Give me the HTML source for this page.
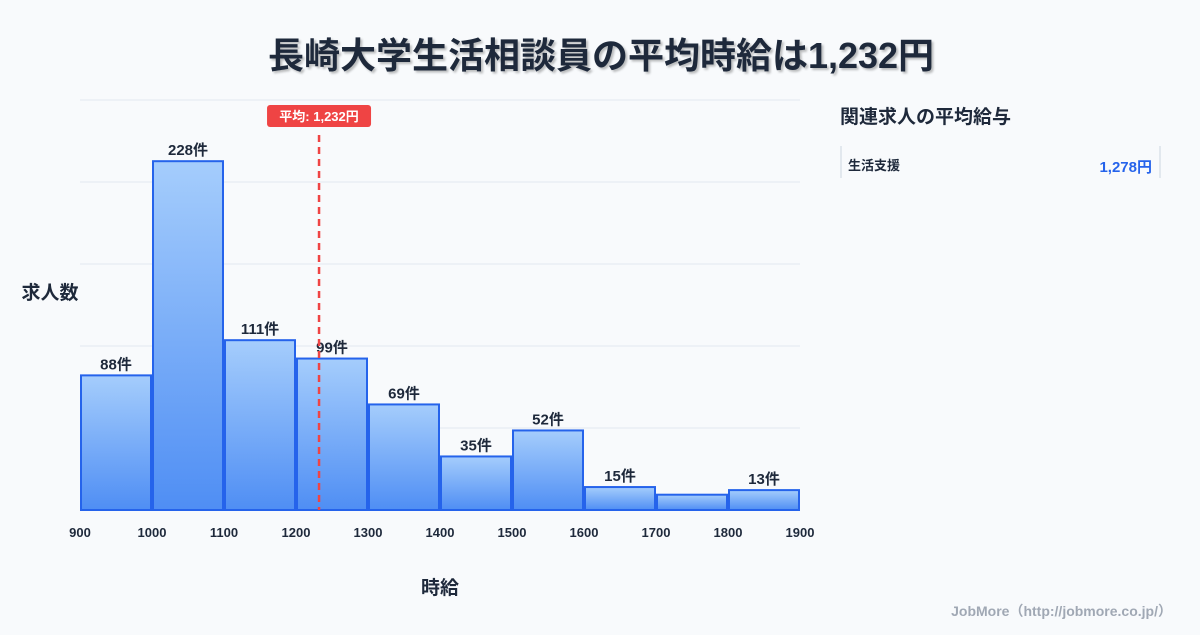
<!DOCTYPE html>
<html><head><meta charset="utf-8">
<style>
body{margin:0;width:1200px;height:630px;background:#f8fafc;overflow:hidden;font-family:"Liberation Sans","Noto Sans CJK JP",sans-serif;}
svg text{font-family:"Liberation Sans","Noto Sans CJK JP",sans-serif;}
</style></head><body>
<svg id="c" width="1200" height="630">
<defs><linearGradient id="g" x1="0" y1="0" x2="0" y2="1"><stop offset="0" stop-color="#a5cdfc"/><stop offset="1" stop-color="#4f8ef4"/></linearGradient></defs>
<text x="601" y="68" text-anchor="middle" font-size="36" font-weight="bold" fill="#1e293b" style="filter:drop-shadow(2px 2px 1px rgba(0,0,0,0.25))">長崎大学生活相談員の平均時給は1,232円</text>
<text x="50" y="299" text-anchor="middle" font-size="19" font-weight="bold" fill="#1e293b">求人数</text>
<text x="440" y="594" text-anchor="middle" font-size="19" font-weight="bold" fill="#1e293b">時給</text>
<text x="840" y="123" font-size="19" font-weight="bold" fill="#1e293b">関連求人の平均給与</text>
<line x1="841" y1="146" x2="841" y2="178" stroke="#cbd5e1"/>
<line x1="1160" y1="146" x2="1160" y2="178" stroke="#cbd5e1"/>
<text x="848" y="170" font-size="13" font-weight="bold" fill="#1e293b">生活支援</text>
<text x="1152" y="172" text-anchor="end" font-size="15" font-weight="bold" fill="#2563eb">1,278円</text>
<text x="1172" y="616" text-anchor="end" font-size="14" font-weight="bold" fill="#a0a8b4">JobMore（http://jobmore.co.jp/）</text>
<g id="plot"></g>
</svg>
<script>
const binStarts=[900,1000,1100,1200,1300,1400,1500,1600,1700,1800];
const counts=[88,228,111,99,69,35,52,15,10,13];
const labels=["88件","228件","111件","99件","69件","35件","52件","15件","","13件"];
const xTicks=[900,1000,1100,1200,1300,1400,1500,1600,1700,1800,1900];
const meanWage=1232;
const meanLabel="平均: 1,232円";
const yMax=268;
const NS="http://www.w3.org/2000/svg";
const X0=80,X1=800,Y0=510,Y1=100;
const xs=v=>X0+(v-900)/(1900-900)*(X1-X0);
const ys=v=>Y0-v/yMax*(Y0-Y1);
const p=document.getElementById('plot');
function mk(t,a,txt){const e=document.createElementNS(NS,t);for(const k in a)e.setAttribute(k,a[k]);if(txt!==undefined)e.textContent=txt;p.appendChild(e);return e;}
for(let i=0;i<=5;i++){const y=Y0-i*(Y0-Y1)/5;
const l=mk('line',{x1:X0,x2:X1,y1:y,y2:y,stroke:'#e2e8f0'});

}
binStarts.forEach((b,i)=>{
const x=xs(b)+1,w=xs(b+100)-xs(b)-2,y=ys(counts[i]);
const r=mk('rect',{x:x,y:y,width:w,height:Y0-y,fill:'url(#g)',stroke:'#2563eb','stroke-width':2});


if(labels[i]){const t=mk('text',{x:x+w/2,y:y-6,'text-anchor':'middle','font-size':15,'font-weight':'bold',fill:'#1e293b'},labels[i]);

}
});
xTicks.forEach(v=>{const t=mk('text',{x:xs(v),y:537,'text-anchor':'middle','font-size':13,'font-weight':'bold',fill:'#1e293b'},v);

});
const mx=xs(meanWage);
const ml=mk('line',{x1:mx,x2:mx,y1:135,y2:Y0,stroke:'#ef4444','stroke-width':2.5,'stroke-dasharray':'7,5'});


const mb=mk('rect',{x:mx-52,y:105,width:104,height:22,rx:3,fill:'#ef4444'});


const mt=mk('text',{x:mx,y:121,'text-anchor':'middle','font-size':13,'font-weight':'bold',fill:'#fff'},meanLabel);


</script>
</body></html>
